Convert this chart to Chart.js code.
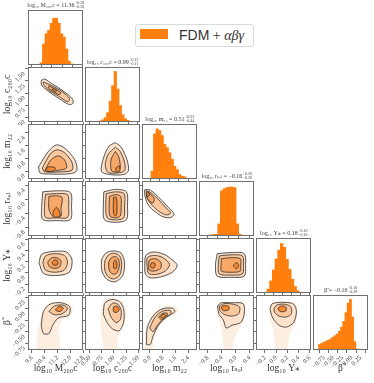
<!DOCTYPE html>
<html>
<head>
<meta charset="utf-8">
<script src="https://cdn.jsdelivr.net/npm/chart.js@4/dist/chart.umd.min.js"></script>
<style>
  html, body { margin: 0; padding: 0; background: #fff; }
  #figure { position: relative; width: 374px; height: 383px; overflow: hidden; background: #fff; }
  #figure canvas { position: absolute; }
  #legend {
    position: absolute; left: 135px; top: 24px; width: 119px; height: 23px;
    box-sizing: border-box; border: 1px solid #dadada; border-radius: 3px; background: #fff;
  }
  #legend .swatch { position: absolute; left: 4px; top: 4px; width: 28px; height: 10px; background: #ff7f0e; }
  #legend .text { position: absolute; left: 43px; top: 0; line-height: 21px; font-size: 14px; color: #333; white-space: nowrap; }
  #legend .sans { font-family: 'Liberation Sans', Arial, sans-serif; }
  #legend .math { font-family: 'Liberation Serif', serif; }
</style>
</head>
<body>
<div id="figure">
  <div id="legend"><span class="swatch"></span><span class="text"><span class="sans">FDM</span> <span class="math">+ <i>αβγ</i></span></span></div>
</div>
<script>
// parameters (same order for rows and columns)
const paramLabels = ['log₁₀ M₂₀₀c', 'log₁₀ c₂₀₀c', 'log₁₀ m₂₂', 'log₁₀ rₛₒₗ', 'log₁₀ Υ⁎', 'β̃'];
const axisMin = [9.35, 0.4, -0.5, -1.05, -0.36, -0.9];
const axisMax = [12.8, 1.54, 2.95, 0.52, 0.62, 0.3];
const tickValues = [
  [9.6, 10.4, 11.2, 12.0, 12.8],
  [0.5, 0.75, 1.0, 1.25, 1.5],
  [0.0, 0.8, 1.6, 2.4],
  [-0.8, -0.4, 0.0, 0.4],
  [-0.2, 0.0, 0.2, 0.4, 0.6],
  [-0.75, -0.5, -0.25, 0.0, 0.25]
];
const tickLabels = [
  ['9.6', '10.4', '11.2', '12.0', '12.8'],
  ['0.50', '0.75', '1.00', '1.25', '1.50'],
  ['0.0', '0.8', '1.6', '2.4'],
  ['−0.8', '−0.4', '0.0', '0.4'],
  ['−0.2', '0.0', '0.2', '0.4', '0.6'],
  ['−0.75', '−0.50', '−0.25', '0.00', '0.25']
];

// marginal summaries shown above the diagonal
const titleValue = ['11.36', '0.99', '0.51', '−0.16', '0.18', '−0.16'];
const titlePlus = ['+0.58', '+0.12', '+0.62', '+0.26', '+0.10', '+0.10'];
const titleMinus = ['−0.56', '−0.11', '−0.44', '−0.26', '−0.10', '−0.29'];

// 1D histograms (relative heights), regular bins
const histStart = [9.85, 0.62, -0.33, -0.9, -0.24, -0.9];
const histWidth = [0.2, 0.065, 0.21, 0.1, 0.06, 0.06];
const histM200c = [0.04, 0.38, 0.57, 0.63, 0.76, 0.85, 0.85, 0.76, 0.57, 0.51, 0.29, 0.07, 0.02];
const histC200c = [0.02, 0.04, 0.08, 0.17, 0.38, 0.66, 0.92, 0.6, 0.3, 0.13, 0.06, 0.03, 0.01];
const histM22 = [0.14, 0.82, 0.91, 0.88, 0.79, 0.63, 0.57, 0.48, 0.36, 0.23, 0.17, 0.08, 0.05, 0.04];
const histRsol = [0.02, 0.03, 0.03, 0.22, 0.82, 0.86, 0.88, 0.89, 0.89, 0.88, 0.22, 0.03];
const histUps = [0.07, 0.22, 0.42, 0.62, 0.78, 0.9, 0.83, 0.61, 0.43, 0.25, 0.12, 0.04];
const histBeta = [0.1, 0.12, 0.14, 0.16, 0.18, 0.2, 0.23, 0.26, 0.29, 0.34, 0.42, 0.52, 0.68, 0.85, 0.92, 0.6, 0.15, 0.02];

// 2D contour levels, outermost first, as [x, y] in parameter units
const cont_c200c_M200c = [
  [[10.18,1.26],[10.39,1.29],[10.87,1.19],[11.49,1.06],[12.11,0.89],[12.18,0.79],[11.94,0.76],[11.28,0.89],[10.66,1.03],[10.21,1.16]],
  [[10.32,1.23],[10.80,1.16],[11.49,1.03],[11.97,0.88],[11.83,0.82],[11.25,0.94],[10.66,1.06],[10.32,1.18]],
  [[10.66,1.15],[11.08,1.08],[11.42,1.00],[11.28,0.97],[10.90,1.04],[10.63,1.10]],
  [[10.90,1.09],[11.12,1.06],[11.08,1.02],[10.88,1.05]]
];
const cont_m22_M200c = [
  [[10.01,0.26],[10.63,1.23],[11.14,1.64],[11.66,1.43],[12.28,0.71],[12.42,0.05],[12.08,-0.16],[10.83,-0.19],[10.11,-0.12]],
  [[10.25,0.19],[10.73,1.05],[11.14,1.33],[11.63,1.16],[12.11,0.54],[12.11,0.05],[11.42,-0.05],[10.39,-0.05]],
  [[10.45,0.12],[10.80,0.71],[11.25,0.95],[11.63,0.71],[11.77,0.19],[11.25,0.05],[10.56,-0.02]],
  [[10.39,0.02],[10.66,0.26],[11.08,0.19],[10.87,-0.02]]
];
const cont_rsol_M200c = [
  [[10.28,0.21],[11.14,0.24],[12.01,0.19],[12.08,-0.19],[12.01,-0.58],[11.14,-0.61],[10.28,-0.58],[10.21,-0.19]],
  [[10.45,0.14],[11.14,0.16],[11.83,0.13],[11.90,-0.19],[11.83,-0.52],[11.14,-0.53],[10.45,-0.52],[10.39,-0.19]],
  [[10.66,0.08],[11.08,0.10],[11.49,0.05],[11.42,-0.27],[11.42,-0.48],[10.90,-0.48],[10.66,-0.27]],
  [[10.94,-0.34],[11.14,-0.23],[11.35,-0.39],[11.32,-0.50],[10.94,-0.50]]
];
const cont_ups_M200c = [
  [[10.04,0.18],[10.21,0.33],[10.90,0.38],[11.77,0.37],[12.11,0.23],[11.94,0.01],[11.08,-0.05],[10.32,-0.01]],
  [[10.28,0.18],[10.45,0.30],[11.01,0.34],[11.63,0.31],[11.83,0.19],[11.63,0.05],[11.01,0.01],[10.45,0.05]],
  [[10.59,0.19],[10.80,0.26],[11.14,0.27],[11.42,0.21],[11.32,0.10],[10.94,0.08],[10.66,0.12]],
  [[10.87,0.18],[11.01,0.23],[11.21,0.21],[11.18,0.14],[10.94,0.14]]
];
const tail_beta_M200c = [[9.90,-0.95],[9.94,-0.54],[10.11,-0.24],[10.39,0.0],[10.90,0.14],[11.59,0.16],[12.11,0.06],[12.04,-0.16],[11.49,-0.24],[11.28,-0.48],[11.35,-0.72],[11.25,-0.95]];
const cont_beta_M200c = [
  [[10.18,-0.36],[10.32,-0.06],[10.73,0.10],[11.42,0.13],[11.97,0.04],[11.90,-0.14],[11.25,-0.20],[10.90,-0.36],[10.66,-0.54],[10.32,-0.54]],
  [[10.66,-0.06],[11.01,0.06],[11.56,0.08],[11.83,0.0],[11.49,-0.11],[11.01,-0.13]],
  [[11.08,-0.01],[11.28,0.05],[11.56,0.02],[11.42,-0.05],[11.14,-0.05]]
];
const cont_m22_c200c = [
  [[1.03,1.78],[1.15,1.50],[1.27,0.71],[1.30,0.02],[1.20,-0.22],[0.91,-0.22],[0.74,-0.02],[0.79,0.88],[0.90,1.57]],
  [[1.03,1.50],[1.13,1.23],[1.22,0.54],[1.22,0.02],[1.08,-0.12],[0.88,-0.09],[0.82,0.36],[0.88,1.05]],
  [[1.03,1.23],[1.10,0.88],[1.13,0.19],[1.06,-0.05],[0.95,0.02],[0.94,0.71]],
  [[1.04,0.19],[1.11,0.33],[1.12,-0.02],[1.05,-0.05]]
];
const cont_rsol_c200c = [
  [[0.79,0.21],[1.03,0.28],[1.26,0.21],[1.28,-0.19],[1.26,-0.58],[1.03,-0.66],[0.80,-0.58],[0.78,-0.19]],
  [[0.84,0.16],[1.03,0.21],[1.21,0.16],[1.22,-0.19],[1.20,-0.53],[1.03,-0.59],[0.86,-0.53],[0.83,-0.19]],
  [[0.91,0.08],[1.03,0.13],[1.14,0.08],[1.15,-0.19],[1.13,-0.48],[1.03,-0.53],[0.92,-0.48],[0.90,-0.19]],
  [[0.99,0.05],[1.05,0.05],[1.06,-0.42],[1.03,-0.48],[0.99,-0.39]]
];
const cont_ups_c200c = [
  [[0.74,0.23],[0.83,0.35],[0.99,0.39],[1.15,0.35],[1.22,0.18],[1.18,-0.05],[1.03,-0.16],[0.86,-0.12],[0.75,0.03]],
  [[0.81,0.21],[0.88,0.31],[1.00,0.35],[1.12,0.30],[1.16,0.15],[1.12,-0.04],[1.00,-0.11],[0.88,-0.07],[0.81,0.05]],
  [[0.89,0.19],[0.94,0.26],[1.03,0.29],[1.10,0.23],[1.11,0.10],[1.05,-0.01],[0.97,-0.02],[0.90,0.05]],
  [[0.99,0.18],[1.03,0.23],[1.06,0.18],[1.05,0.08],[1.00,0.08]]
];
const tail_beta_c200c = [[0.81,-0.95],[0.74,-0.54],[0.72,-0.18],[0.76,0.12],[0.91,0.24],[1.11,0.20],[1.22,0.06],[1.26,-0.18],[1.15,-0.42],[1.08,-0.66],[1.06,-0.95]];
const cont_beta_c200c = [
  [[0.78,-0.12],[0.81,0.12],[0.95,0.20],[1.11,0.16],[1.20,0.0],[1.20,-0.30],[1.11,-0.48],[0.97,-0.44],[0.86,-0.30]],
  [[0.88,0.0],[0.97,0.12],[1.08,0.10],[1.15,-0.04],[1.13,-0.24],[1.04,-0.30],[0.94,-0.18]],
  [[0.99,0.04],[1.06,0.06],[1.11,-0.01],[1.06,-0.08],[0.99,-0.06]]
];
const cont_rsol_m22 = [
  [[-0.33,0.27],[-0.02,0.27],[0.50,0.08],[1.02,-0.17],[1.50,-0.41],[1.33,-0.52],[0.81,-0.50],[0.19,-0.31],[-0.16,-0.12],[-0.33,0.13]],
  [[-0.22,0.24],[-0.02,0.21],[0.47,0.02],[0.95,-0.22],[1.29,-0.39],[1.05,-0.45],[0.54,-0.34],[0.02,-0.11],[-0.22,0.08]],
  [[-0.19,0.21],[-0.02,0.16],[0.26,0.02],[0.19,-0.11],[-0.09,-0.03],[-0.19,0.08]],
  [[-0.22,0.19],[-0.09,0.21],[-0.05,0.10],[-0.19,0.08]]
];
const cont_ups_m22 = [
  [[-0.33,0.13],[-0.26,0.31],[0.19,0.37],[0.88,0.33],[1.40,0.23],[1.71,0.13],[1.40,0.01],[0.71,-0.07],[0.02,-0.09],[-0.29,-0.02]],
  [[-0.19,0.13],[-0.16,0.27],[0.26,0.31],[0.81,0.27],[1.23,0.15],[0.95,0.03],[0.36,-0.03],[-0.09,-0.01]],
  [[-0.09,0.13],[-0.02,0.23],[0.33,0.25],[0.67,0.19],[0.67,0.08],[0.26,0.03],[-0.05,0.05]],
  [[0.02,0.13],[0.12,0.18],[0.33,0.16],[0.26,0.09],[0.09,0.09]]
];
const tail_beta_m22 = [[-0.33,-0.95],[-0.22,-0.40],[0.22,-0.10],[0.85,0.05],[1.47,0.06],[1.78,-0.02],[1.57,-0.13],[1.05,-0.20],[0.54,-0.40],[0.22,-0.68],[0.12,-0.95]];
const cont_beta_m22 = [
  [[-0.22,-0.78],[-0.16,-0.40],[0.26,-0.13],[0.81,0.0],[1.40,0.01],[1.57,-0.06],[1.05,-0.18],[0.54,-0.36],[0.19,-0.60],[0.02,-0.78]],
  [[-0.02,-0.42],[0.33,-0.18],[0.81,-0.05],[1.29,-0.04],[1.29,-0.12],[0.88,-0.20],[0.47,-0.36],[0.19,-0.50]],
  [[0.54,-0.18],[0.81,-0.10],[1.09,-0.10],[1.02,-0.18],[0.74,-0.24]],
  [[0.67,-0.17],[0.81,-0.12],[0.98,-0.14],[0.88,-0.20],[0.74,-0.20]]
];
const cont_ups_rsol = [
  [[-0.53,0.34],[-0.14,0.36],[0.24,0.34],[0.28,0.13],[0.24,-0.06],[-0.14,-0.08],[-0.53,-0.06],[-0.58,0.13]],
  [[-0.47,0.30],[-0.14,0.32],[0.19,0.30],[0.22,0.13],[0.19,-0.02],[-0.14,-0.04],[-0.47,-0.02],[-0.50,0.13]],
  [[-0.41,0.25],[-0.14,0.27],[0.13,0.25],[0.14,0.13],[0.13,0.03],[-0.14,0.01],[-0.41,0.03],[-0.42,0.13]],
  [[-0.08,0.13],[0.02,0.18],[0.08,0.13],[0.02,0.07]]
];
const tail_beta_rsol = [[-0.34,-0.95],[-0.39,-0.54],[-0.48,-0.24],[-0.55,0.0],[-0.48,0.12],[-0.11,0.14],[0.24,0.12],[0.27,-0.12],[0.17,-0.36],[0.02,-0.54],[-0.08,-0.78],[-0.11,-0.95]];
const cont_beta_rsol = [
  [[-0.52,0.06],[-0.42,0.13],[-0.11,0.13],[0.21,0.11],[0.24,-0.12],[0.14,-0.30],[-0.11,-0.36],[-0.27,-0.42],[-0.36,-0.24],[-0.48,-0.12]],
  [[-0.47,0.06],[-0.34,0.11],[-0.08,0.10],[0.11,0.04],[0.08,-0.11],[-0.11,-0.16],[-0.34,-0.12],[-0.45,-0.04]],
  [[-0.42,0.04],[-0.33,0.07],[-0.20,0.05],[-0.20,-0.02],[-0.36,-0.04]]
];
const tail_beta_ups = [[-0.02,-0.95],[-0.04,-0.54],[-0.11,-0.24],[-0.12,0.0],[-0.07,0.13],[0.13,0.16],[0.33,0.12],[0.38,-0.04],[0.35,-0.30],[0.25,-0.54],[0.21,-0.78],[0.18,-0.95]];
const cont_beta_ups = [
  [[-0.11,0.0],[-0.07,0.11],[0.13,0.14],[0.31,0.10],[0.36,-0.06],[0.31,-0.30],[0.18,-0.40],[0.05,-0.36],[-0.07,-0.18]],
  [[-0.04,0.0],[0.01,0.08],[0.15,0.10],[0.26,0.04],[0.27,-0.11],[0.18,-0.18],[0.05,-0.16],[-0.03,-0.08]],
  [[0.03,0.01],[0.08,0.06],[0.17,0.04],[0.17,-0.05],[0.07,-0.06]]
];

const histValues = [histM200c, histC200c, histM22, histRsol, histUps, histBeta];
// [row, col, levels, tail]
const pairPanels = [
  [1, 0, cont_c200c_M200c, null],
  [2, 0, cont_m22_M200c, null], [2, 1, cont_m22_c200c, null],
  [3, 0, cont_rsol_M200c, null], [3, 1, cont_rsol_c200c, null], [3, 2, cont_rsol_m22, null],
  [4, 0, cont_ups_M200c, null], [4, 1, cont_ups_c200c, null], [4, 2, cont_ups_m22, null], [4, 3, cont_ups_rsol, null],
  [5, 0, cont_beta_M200c, tail_beta_M200c], [5, 1, cont_beta_c200c, tail_beta_c200c],
  [5, 2, cont_beta_m22, tail_beta_m22], [5, 3, cont_beta_rsol, tail_beta_rsol], [5, 4, cont_beta_ups, tail_beta_ups]
];

// layout of the grid
const colX = [28, 85, 142, 199, 256, 313];
const rowY = [10, 67, 124, 181, 238, 295];
const SIZE = 55;
const frameColor = '#707070';
const lineColor = '#2d2d2d';
const levelFills = ['#fde3cc', '#fbc79c', '#f8a766', '#f4872f'];
const tailFill = '#fdeee2';
const histColor = '#ff7f0e';

Chart.defaults.font.family = "'Liberation Serif', 'DejaVu Serif', serif";
Chart.defaults.animation = false;

const fig = document.getElementById('figure');

const frame = {
  id: 'frame',
  afterDraw(chart) {
    const a = chart.chartArea, ctx = chart.ctx;
    ctx.save();
    ctx.strokeStyle = frameColor;
    ctx.lineWidth = 1;
    ctx.strokeRect(Math.round(a.left) + 0.5, Math.round(a.top) + 0.5,
      Math.round(a.right - a.left) - 1, Math.round(a.bottom - a.top) - 1);
    ctx.restore();
  }
};

const panelTitle = {
  id: 'panelTitle',
  afterDraw(chart, args, opts) {
    if (!opts || !opts.main) return;
    const ctx = chart.ctx, a = chart.chartArea;
    const fam = "'Liberation Serif', 'DejaVu Serif', serif";
    ctx.save();
    ctx.fillStyle = '#3a3a3a';
    ctx.textBaseline = 'alphabetic';
    ctx.textAlign = 'left';
    ctx.font = '6px ' + fam;
    const mw = ctx.measureText(opts.main).width;
    ctx.font = '4px ' + fam;
    const sw = Math.max(ctx.measureText(opts.plus).width, ctx.measureText(opts.minus).width);
    const x = (a.left + a.right) / 2 - (mw + sw) / 2;
    const y = a.top - 3.5;
    ctx.font = '6px ' + fam;
    ctx.fillText(opts.main, x, y);
    ctx.font = '4px ' + fam;
    ctx.fillText(opts.plus, x + mw + 0.5, y - 2.4);
    ctx.fillText(opts.minus, x + mw + 0.5, y + 1.6);
    ctx.restore();
  }
};

function axisOptions(p, horizontal, showLabels, size) {
  return {
    type: 'linear',
    min: axisMin[p],
    max: axisMax[p],
    afterBuildTicks: s => { s.ticks = tickValues[p].map(v => ({ value: v })); },
    afterFit: s => {
      if (horizontal) s.height = size; else s.width = size;
      s.paddingLeft = s.paddingRight = s.paddingTop = s.paddingBottom = 0;
    },
    grid: { drawOnChartArea: false, drawTicks: true, tickLength: 3, color: frameColor, lineWidth: 1 },
    border: { display: false },
    ticks: {
      display: showLabels,
      autoSkip: false,
      minRotation: 45,
      maxRotation: 45,
      padding: 1,
      labelOffset: horizontal ? 0 : 4,
      color: '#454545',
      font: { size: 6.5 },
      callback: (v, i) => tickLabels[p][i]
    },
    title: {
      display: showLabels,
      text: paramLabels[p],
      color: '#333',
      font: { size: 9.5 },
      padding: horizontal ? { top: 0, bottom: 10 } : { top: 2, bottom: 0 }
    }
  };
}

function placeCanvas(row, col, L, T, R, B) {
  const c = document.createElement('canvas');
  c.width = SIZE + L + R;
  c.height = SIZE + T + B;
  c.style.left = (colX[col] - L) + 'px';
  c.style.top = (rowY[row] - T) + 'px';
  fig.appendChild(c);
  return c;
}

function closed(points) {
  const pts = points.map(p => ({ x: p[0], y: p[1] }));
  pts.push(pts[0]);
  return pts;
}

const baseOptions = (padding) => ({
  responsive: false,
  animation: false,
  events: [],
  layout: { padding: padding, autoPadding: false },
  plugins: { legend: { display: false }, tooltip: { enabled: false } }
});

// diagonal: histograms
for (let p = 0; p < 6; p++) {
  const L = 4, T = 10, R = 2, B = p === 5 ? 34 : 4;
  const canvas = placeCanvas(p, p, L, T, R, B);
  const opts = baseOptions({ left: L, top: T, right: R, bottom: 0 });
  opts.scales = {
    x: axisOptions(p, true, p === 5, B),
    y: { display: false, min: 0, max: 1 }
  };
  opts.plugins.panelTitle = {
    main: paramLabels[p] + ' = ' + titleValue[p],
    plus: titlePlus[p],
    minus: titleMinus[p]
  };
  new Chart(canvas.getContext('2d'), {
    type: 'bar',
    data: {
      datasets: [{
        label: 'FDM + αβγ',
        data: histValues[p].map((h, i) => ({ x: histStart[p] + histWidth[p] * (i + 0.5), y: h })),
        backgroundColor: histColor,
        borderWidth: 0,
        barPercentage: 1,
        categoryPercentage: 1
      }]
    },
    options: opts,
    plugins: [frame, panelTitle]
  });
}

// lower triangle: contours
pairPanels.forEach(([row, col, levels, tail]) => {
  const L = col === 0 ? 28 : 4, T = 1, R = 2, B = row === 5 ? 34 : 4;
  const canvas = placeCanvas(row, col, L, T, R, B);
  const opts = baseOptions({ left: 0, top: T, right: R, bottom: 0 });
  opts.scales = {
    x: axisOptions(col, true, row === 5, B),
    y: axisOptions(row, false, col === 0, L)
  };
  const n = levels.length;
  const sets = [];
  if (tail) {
    sets.push({ data: closed(tail), backgroundColor: tailFill, borderWidth: 0 });
  }
  levels.forEach((lvl, i) => {
    sets.push({
      data: closed(lvl),
      backgroundColor: levelFills[i < n - 1 ? i : 3],
      borderColor: lineColor,
      borderWidth: 0.8
    });
  });
  // first dataset is drawn on top, so innermost goes first
  const datasets = sets.reverse().map(s => Object.assign({
    showLine: true,
    fill: 'shape',
    pointRadius: 0,
    tension: 0.3
  }, s));
  new Chart(canvas.getContext('2d'), {
    type: 'scatter',
    data: { datasets: datasets },
    options: opts,
    plugins: [frame]
  });
});
</script>
</body>
</html>
